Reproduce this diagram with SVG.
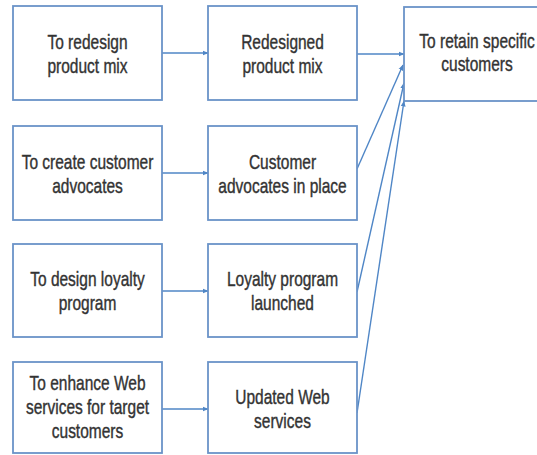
<svg xmlns="http://www.w3.org/2000/svg" width="537" height="455" viewBox="0 0 537 455">
<style>
.box{fill:#ffffff;stroke:#6a93c8;stroke-width:1.8}
.lbl{font-family:"Liberation Sans",Arial,sans-serif;font-size:15.5px;fill:#333333;stroke:#333333;stroke-width:0.3;text-anchor:middle}
.con{stroke:#4f86c6;stroke-width:1.4;fill:none;marker-end:url(#ah)}
</style>
<defs>
<marker id="ah" markerWidth="6" markerHeight="6" refX="5.5" refY="3" orient="auto" markerUnits="userSpaceOnUse">
<path d="M0,0.6 L6,3 L0,5.4 Z" fill="#4f86c6"/>
</marker>
</defs>
<rect width="537" height="455" fill="#ffffff"/>
<g id="connectors">
<line class="con" x1="162" y1="53" x2="208" y2="53"/>
<line class="con" x1="162" y1="173" x2="208" y2="173"/>
<line class="con" x1="162" y1="291" x2="208" y2="291"/>
<line class="con" x1="162" y1="409" x2="208" y2="409"/>
<line class="con" x1="357" y1="54" x2="404" y2="54"/>
<line class="con" x1="357" y1="169" x2="403" y2="65"/>
<line class="con" x1="357" y1="292" x2="404" y2="83"/>
<line class="con" x1="357" y1="413" x2="404" y2="101"/>
</g>
<g id="n1">
<rect class="box" x="13" y="6" width="149" height="94"/>
<text class="lbl" transform="translate(87.5,49) scale(1,1.35)">To redesign</text>
<text class="lbl" transform="translate(87.5,73) scale(1,1.35)">product mix</text>
</g>
<g id="n2">
<rect class="box" x="13" y="126" width="149" height="94"/>
<text class="lbl" transform="translate(87.5,169) scale(1,1.35)">To create customer</text>
<text class="lbl" transform="translate(87.5,193) scale(1,1.35)">advocates</text>
</g>
<g id="n3">
<rect class="box" x="13" y="244" width="149" height="93"/>
<text class="lbl" transform="translate(87.5,286) scale(1,1.35)">To design loyalty</text>
<text class="lbl" transform="translate(87.5,310) scale(1,1.35)">program</text>
</g>
<g id="n4">
<rect class="box" x="13" y="362" width="149" height="91"/>
<text class="lbl" transform="translate(87.5,389.5) scale(1,1.35)">To enhance Web</text>
<text class="lbl" transform="translate(87.5,413.5) scale(1,1.35)">services for target</text>
<text class="lbl" transform="translate(87.5,437.5) scale(1,1.35)">customers</text>
</g>
<g id="n5">
<rect class="box" x="208" y="6" width="149" height="94"/>
<text class="lbl" transform="translate(282.5,49) scale(1,1.35)">Redesigned</text>
<text class="lbl" transform="translate(282.5,73) scale(1,1.35)">product mix</text>
</g>
<g id="n6">
<rect class="box" x="208" y="126" width="149" height="94"/>
<text class="lbl" transform="translate(282.5,169) scale(1,1.35)">Customer</text>
<text class="lbl" transform="translate(282.5,193) scale(1,1.35)">advocates in place</text>
</g>
<g id="n7">
<rect class="box" x="208" y="244" width="149" height="93"/>
<text class="lbl" transform="translate(282.5,286) scale(1,1.35)">Loyalty program</text>
<text class="lbl" transform="translate(282.5,310) scale(1,1.35)">launched</text>
</g>
<g id="n8">
<rect class="box" x="208" y="362" width="149" height="91"/>
<text class="lbl" transform="translate(282.5,404) scale(1,1.35)">Updated Web</text>
<text class="lbl" transform="translate(282.5,428) scale(1,1.35)">services</text>
</g>
<g id="n9">
<rect class="box" x="404" y="7" width="160" height="94"/>
<text class="lbl" transform="translate(477,48) scale(1,1.35)">To retain specific</text>
<text class="lbl" transform="translate(477,71) scale(1,1.35)">customers</text>
</g>
</svg>
